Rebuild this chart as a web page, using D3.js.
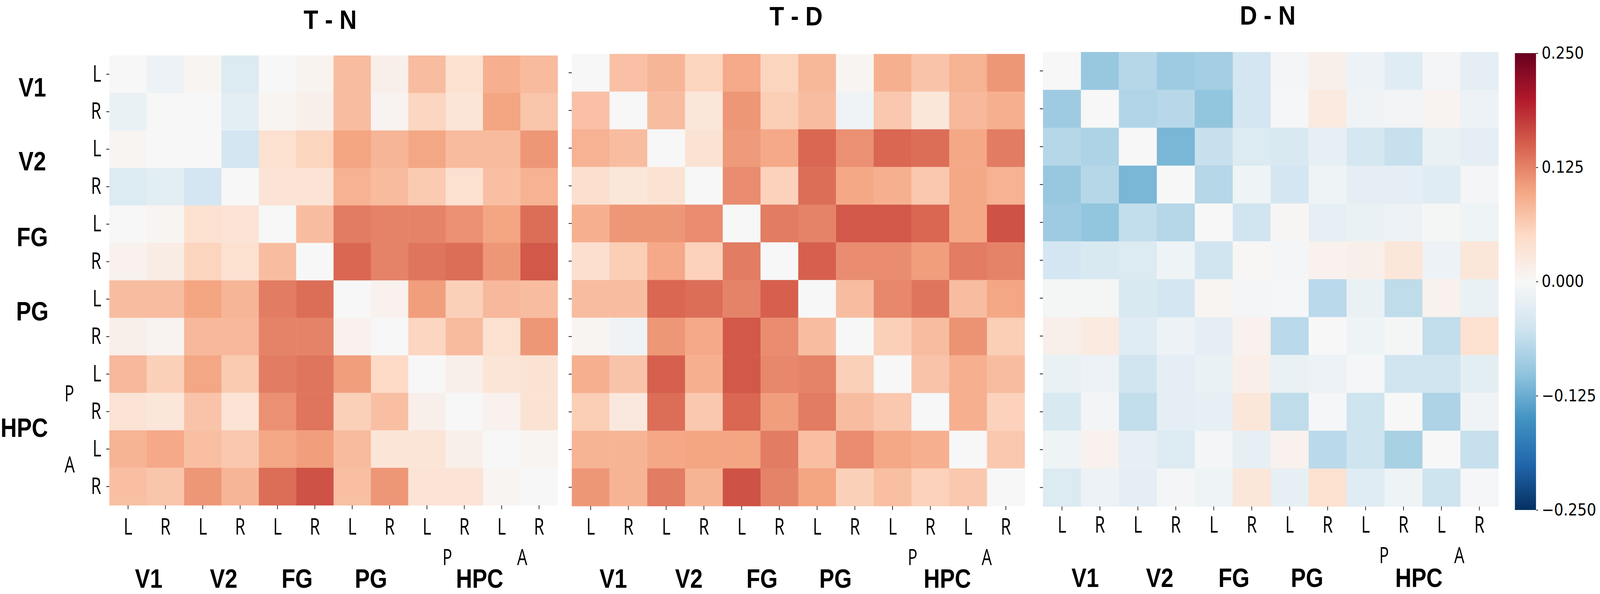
<!DOCTYPE html>
<html>
<head>
<meta charset="utf-8">
<script src="https://cdn.jsdelivr.net/npm/d3@7"></script>
<style>
  html, body { margin: 0; padding: 0; background: #fff; width: 100%; height: 100%; overflow: hidden; }
  svg { display: block; width: 100vw; height: 100vh; }
  text { fill: #000; }
</style>
</head>
<body>
<!-- the window can come out narrower than 4550, so the drawing is stretched to fill it -->
<svg id="chart" viewBox="0 0 4550 1520" preserveAspectRatio="none"></svg>
<script>
// region names and the hemisphere label of every row / column
const regions = ["V1", "V2", "FG", "PG", "HPC"];
const hemis = ["L", "R", "L", "R", "L", "R", "L", "R", "L", "R", "L", "R"];
const hpcParts = ["P", "A"];
const colorTicks = [0.25, 0.125, 0, -0.125, -0.25];

const tnValues = [
  [0, -0.014, 0.005, -0.035, 0, 0.008, 0.078, 0.014, 0.078, 0.04, 0.09, 0.08],
  [-0.018, 0, 0, -0.026, 0.005, 0.014, 0.078, 0.007, 0.055, 0.033, 0.1, 0.07],
  [0.006, 0, 0, -0.046, 0.04, 0.056, 0.1, 0.085, 0.098, 0.08, 0.08, 0.11],
  [-0.035, -0.026, -0.046, 0, 0.035, 0.035, 0.088, 0.08, 0.066, 0.04, 0.076, 0.088],
  [0, 0.006, 0.04, 0.035, 0, 0.078, 0.13, 0.125, 0.125, 0.115, 0.1, 0.14],
  [0.01, 0.02, 0.056, 0.04, 0.078, 0, 0.145, 0.125, 0.135, 0.14, 0.11, 0.155],
  [0.078, 0.078, 0.1, 0.085, 0.13, 0.14, 0, 0.01, 0.105, 0.06, 0.082, 0.078],
  [0.014, 0.007, 0.082, 0.082, 0.125, 0.125, 0.01, 0, 0.055, 0.08, 0.04, 0.11],
  [0.082, 0.06, 0.098, 0.066, 0.13, 0.135, 0.105, 0.05, 0, 0.014, 0.033, 0.036],
  [0.035, 0.03, 0.072, 0.035, 0.115, 0.135, 0.06, 0.076, 0.014, 0, 0.01, 0.036],
  [0.086, 0.096, 0.076, 0.068, 0.098, 0.105, 0.08, 0.033, 0.033, 0.014, 0, 0.006],
  [0.076, 0.07, 0.11, 0.085, 0.14, 0.16, 0.076, 0.11, 0.035, 0.035, 0.006, 0]
];
const tdValues = [
  [0, 0.075, 0.085, 0.056, 0.095, 0.056, 0.083, 0.006, 0.09, 0.072, 0.087, 0.11],
  [0.075, 0, 0.078, 0.03, 0.11, 0.062, 0.078, -0.01, 0.068, 0.03, 0.082, 0.09],
  [0.088, 0.078, 0, 0.036, 0.108, 0.096, 0.145, 0.115, 0.145, 0.14, 0.097, 0.13],
  [0.042, 0.03, 0.036, 0, 0.118, 0.058, 0.14, 0.097, 0.09, 0.068, 0.097, 0.088],
  [0.09, 0.11, 0.11, 0.118, 0, 0.13, 0.125, 0.155, 0.155, 0.145, 0.097, 0.16],
  [0.042, 0.062, 0.096, 0.058, 0.13, 0, 0.15, 0.118, 0.118, 0.105, 0.13, 0.125],
  [0.078, 0.078, 0.145, 0.14, 0.125, 0.15, 0, 0.078, 0.122, 0.135, 0.078, 0.098],
  [0.005, -0.01, 0.11, 0.096, 0.155, 0.118, 0.078, 0, 0.06, 0.078, 0.113, 0.062],
  [0.09, 0.072, 0.15, 0.09, 0.155, 0.122, 0.125, 0.06, 0, 0.072, 0.09, 0.078],
  [0.062, 0.026, 0.14, 0.068, 0.145, 0.105, 0.13, 0.078, 0.068, 0, 0.09, 0.058],
  [0.086, 0.086, 0.097, 0.1, 0.1, 0.13, 0.076, 0.118, 0.097, 0.09, 0, 0.068],
  [0.11, 0.086, 0.13, 0.086, 0.16, 0.125, 0.1, 0.06, 0.076, 0.058, 0.068, 0]
];
const dnValues = [
  [0, -0.095, -0.072, -0.09, -0.086, -0.046, -0.005, 0.014, -0.014, -0.03, -0.005, -0.024],
  [-0.09, 0, -0.075, -0.07, -0.1, -0.046, -0.003, 0.024, -0.01, -0.007, 0.007, -0.014],
  [-0.072, -0.078, 0, -0.115, -0.058, -0.035, -0.04, -0.022, -0.045, -0.058, -0.018, -0.024],
  [-0.095, -0.072, -0.115, 0, -0.072, -0.012, -0.046, -0.012, -0.024, -0.024, -0.03, -0.005],
  [-0.09, -0.1, -0.062, -0.072, 0, -0.05, 0.004, -0.022, -0.018, -0.014, -0.004, -0.012],
  [-0.046, -0.04, -0.035, -0.012, -0.05, 0.002, -0.005, 0.01, 0.014, 0.03, -0.014, 0.03],
  [-0.004, -0.004, -0.04, -0.046, 0.005, -0.005, -0.002, -0.068, -0.018, -0.064, 0.01, -0.018],
  [0.014, 0.024, -0.03, -0.014, -0.024, 0.01, -0.068, 0, -0.012, -0.004, -0.062, 0.04],
  [-0.018, -0.014, -0.05, -0.024, -0.018, 0.016, -0.018, -0.014, -0.002, -0.05, -0.05, -0.026],
  [-0.04, -0.007, -0.062, -0.024, -0.022, 0.03, -0.064, -0.002, -0.052, 0, -0.078, -0.01],
  [-0.012, 0.01, -0.022, -0.035, -0.005, -0.022, 0.01, -0.068, -0.052, -0.082, 0, -0.058],
  [-0.035, -0.014, -0.024, -0.005, -0.012, 0.03, -0.022, 0.04, -0.03, -0.012, -0.052, -0.002]
];

// layout of the three panels
const panels = [
  { title: "T - N", values: tnValues, x: 311, y: 142, w: 1275, h: 1151, titleX: 939, titleY: 50, tickPad: 24,
    regionX: [423, 636, 845, 1055, 1364], regionY: 1480, partX: [1272, 1485], partY: 1424, yLabels: true },
  { title: "T - D", values: tdValues, x: 1626, y: 138, w: 1288, h: 1157, titleX: 2264, titleY: 41, tickPad: 22,
    regionX: [1744, 1959, 2167, 2376, 2694], regionY: 1480, partX: [2595, 2806], partY: 1424, yLabels: false },
  { title: "D - N", values: dnValues, x: 2966, y: 133, w: 1295, h: 1163, titleX: 3605, titleY: 39, tickPad: 16,
    regionX: [3086, 3298, 3509, 3717, 4035], regionY: 1478, partX: [3936, 4150], partY: 1419, yLabels: false }
];
const regionLeft = [{ i: 0, y: 223 }, { i: 1, y: 412 }, { i: 2, y: 606 }, { i: 3, y: 796 }];

const svg = d3.select("#chart");
const boldFont = "'Liberation Sans', sans-serif";
const plainFont = "'Open Sans', sans-serif";

// matplotlib RdBu_r is the piecewise linear brewer ramp
const ramp = d3.schemeRdBu[11].slice().reverse();
const color = d3.scaleLinear()
  .domain(d3.range(11).map(i => -0.25 + i * 0.05))
  .range(ramp)
  .interpolate(d3.interpolateRgb);

// the picture's letters are taller and narrower than the installed fonts
function squeeze(sel, factor) {
  sel.each(function() {
    d3.select(this)
      .attr("textLength", this.getComputedTextLength() * factor)
      .attr("lengthAdjust", "spacingAndGlyphs");
  });
}

function boldLabel(x, y, str, factor) {
  svg.append("text")
    .attr("x", x).attr("y", y)
    .attr("text-anchor", "middle")
    .attr("dominant-baseline", "central")
    .attr("font-family", boldFont)
    .attr("font-weight", 700)
    .attr("font-size", 68)
    .text(str)
    .call(squeeze, factor);
}

function plainLabel(x, y, str) {
  svg.append("text")
    .attr("x", x).attr("y", y)
    .attr("text-anchor", "middle")
    .attr("dominant-baseline", "central")
    .attr("font-family", plainFont)
    .attr("font-size", 56)
    .text(str)
    .call(squeeze, 0.82);
}

panels.forEach(p => {
  const g = svg.append("g").attr("transform", "translate(" + p.x + "," + p.y + ")");
  const xs = d3.scaleBand().domain(d3.range(12)).range([0, p.w]);
  const ys = d3.scaleBand().domain(d3.range(12)).range([0, p.h]);

  g.selectAll("g.row").data(p.values).enter().append("g")
    .attr("class", "row")
    .each(function(row, r) {
      d3.select(this).selectAll("rect").data(row).enter().append("rect")
        .attr("x", (d, c) => xs(c))
        .attr("y", ys(r))
        .attr("width", xs.bandwidth() + 0.5)
        .attr("height", ys.bandwidth() + 0.5)
        .attr("fill", d => color(d));
    });

  const bottom = g.append("g")
    .attr("transform", "translate(0," + p.h + ")")
    .call(d3.axisBottom(xs).tickSize(10).tickPadding(p.tickPad).tickFormat(i => hemis[i]));
  const left = g.append("g")
    .call(d3.axisLeft(ys).tickSize(9).tickPadding(14).tickFormat(i => p.yLabels ? hemis[i] : ""));
  [bottom, left].forEach(a => {
    a.select(".domain").remove();
    a.selectAll("line").attr("stroke-width", 2).attr("stroke", "#222");
    a.selectAll("text").attr("font-family", plainFont).attr("font-size", 58).attr("fill", "#000");
    a.selectAll("text").call(squeeze, 0.82);
  });

  boldLabel(p.titleX, p.titleY, p.title, 1);
  regions.forEach((r, i) => boldLabel(p.regionX[i], p.regionY, r, 0.94));
  hpcParts.forEach((s, i) => plainLabel(p.partX[i], p.partY, s));
});

// row labels on the left of the first panel
regionLeft.forEach(d => boldLabel(92, d.y, regions[d.i], 0.94));
boldLabel(69, 1094, regions[4], 0.94);
plainLabel(197, 1005, hpcParts[0]);
plainLabel(198, 1187, hpcParts[1]);

// colour bar
const barX = 4308, barW = 60, barTop = 136, barBottom = 1305;
const defs = svg.append("defs");
const grad = defs.append("linearGradient")
  .attr("id", "barGrad")
  .attr("x1", 0).attr("x2", 0).attr("y1", 1).attr("y2", 0);
color.domain().forEach(v => {
  grad.append("stop")
    .attr("offset", (v + 0.25) / 0.5)
    .attr("stop-color", color(v));
});
svg.append("rect")
  .attr("x", barX).attr("y", barTop)
  .attr("width", barW).attr("height", barBottom - barTop)
  .attr("fill", "url(#barGrad)");

const barScale = d3.scaleLinear().domain([-0.25, 0.25]).range([barBottom, barTop]);
const barAxis = svg.append("g")
  .attr("transform", "translate(" + (barX + barW) + ",0)")
  .call(d3.axisRight(barScale).tickValues(colorTicks).tickSize(6).tickPadding(10).tickFormat(d3.format(".3f")));
barAxis.select(".domain").remove();
barAxis.selectAll("line").attr("stroke-width", 2).attr("stroke", "#222");
barAxis.selectAll("text").attr("font-family", "'DejaVu Sans', sans-serif").attr("font-size", 42).attr("fill", "#000");
</script>
</body>
</html>
